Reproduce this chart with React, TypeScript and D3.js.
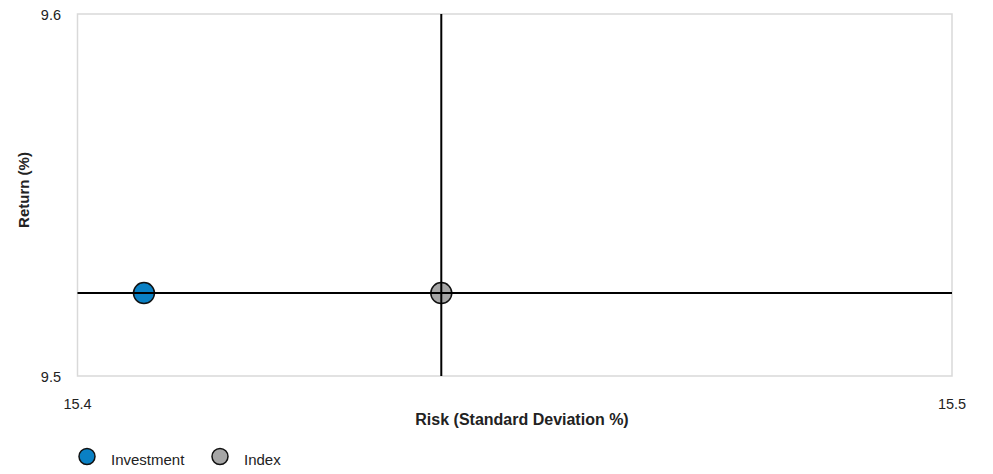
import React from "react";
import * as d3 from "d3";

const seriesNames = ["Investment", "Index"];
const riskValues = [15.4076, 15.4416];
const returnValues = [9.5229, 9.5229];
const seriesColors = ["#0a80c4", "#a6a6a6"];
const xTicks = [15.4, 15.5];
const yTicks = [9.5, 9.6];

export default function App() {
  const W = 993, H = 474;
  const left = 77.5, right = 952, top = 14, bottom = 376;
  const x = d3.scaleLinear().domain([15.4, 15.5]).range([left, right]);
  const y = d3.scaleLinear().domain([9.5, 9.6]).range([bottom, top]);
  const font = "Arial, 'Liberation Sans', sans-serif";
  const ix = x(riskValues[1]);
  const iy = y(returnValues[1]);
  const legendX = [87, 220];
  return (
    <svg width={W} height={H} style={{ position: "absolute", left: 0, top: 0 }} fontFamily={font}>
      <rect x={0} y={0} width={W} height={H} fill="#fff" />
      <rect x={left} y={top} width={right - left} height={bottom - top} fill="none" stroke="#d9d9d9" strokeWidth={1.5} />
      {yTicks.map((t) => (
        <text key={t} x={61} y={y(t) + 1} dy="0.35em" textAnchor="end" fontSize={14.5} fill="#222">{d3.format(".1f")(t)}</text>
      ))}
      {xTicks.map((t) => (
        <text key={t} x={x(t)} y={403.5} dy="0.35em" textAnchor="middle" fontSize={14.5} fill="#222">{d3.format(".1f")(t)}</text>
      ))}
      <text x={24} y={190} transform={`rotate(-90, 24, 190)`} dy="0.35em" textAnchor="middle" fontSize={15} fontWeight="bold" fill="#222">Return (%)</text>
      <text x={522} y={419.5} dy="0.35em" textAnchor="middle" fontSize={16} fontWeight="bold" fill="#222">Risk (Standard Deviation %)</text>
      {riskValues.map((r, i) => (
        <circle key={i} cx={x(r)} cy={y(returnValues[i])} r={10.5} fill={seriesColors[i]} stroke="#111" strokeWidth={1.5} />
      ))}
      <line x1={left} x2={right} y1={iy} y2={iy} stroke="#000" strokeWidth={2} />
      <line x1={ix} x2={ix} y1={top} y2={bottom} stroke="#000" strokeWidth={2} />
      {seriesNames.map((n, i) => {
        const lx = legendX[i];
        return (
          <g key={n}>
            <circle cx={lx} cy={456.5} r={8} fill={seriesColors[i]} stroke="#111" strokeWidth={1.5} />
            <text x={lx + 24} y={460} dy="0.35em" fontSize={15} fill="#222">{n}</text>
          </g>
        );
      })}
    </svg>
  );
}
